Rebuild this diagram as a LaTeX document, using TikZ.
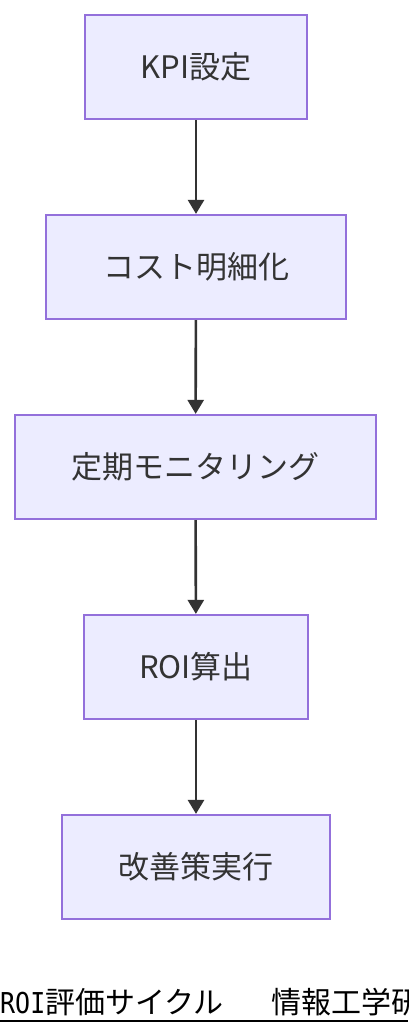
\documentclass[tikz,border=0pt]{standalone}
\usepackage{fontspec}
\setmainfont{Noto Sans CJK JP}
\newfontfamily\jpfont{Noto Sans CJK JP}
\newfontfamily\monofont{DejaVu Sans Mono}
\usetikzlibrary{arrows.meta}
\definecolor{nodefill}{HTML}{ECECFF}
\definecolor{nodeline}{HTML}{9370DB}
\definecolor{txt}{HTML}{333333}
\begin{document}
\begin{tikzpicture}[x=1pt,y=-1pt,
  box/.style={draw=nodeline,fill=nodefill,line width=2.2pt,minimum height=104pt,
    text=txt,font=\jpfont\fontsize{31}{32}\selectfont,inner sep=0pt},
  link/.style={draw=txt,line width=2.6pt,-{Triangle[width=16pt,length=14pt]}}]
\useasboundingbox (0,0) rectangle (408,1036);
\node[box,minimum width=222pt] (a) at (196,67) {KPI設定};
\node[box,minimum width=300pt] (b) at (196,267) {コスト明細化};
\node[box,minimum width=361pt] (c) at (195.5,467) {定期モニタリング};
\node[box,minimum width=224pt] (d) at (196,667) {ROI算出};
\node[box,minimum width=268pt] (e) at (196,867) {改善策実行};
\draw[link] (a) -- (b);
\draw[link] (b) -- (c);
\draw[link] (c) -- (d);
\draw[link] (d) -- (e);
\node[anchor=base west,inner sep=0pt,font=\monofont\fontsize{25}{25}\selectfont] (t1) at (0,1013) {\scalebox{1}[1.15]{ROI}};
\node[anchor=base west,inner sep=0pt,font=\jpfont\fontsize{30}{30}\selectfont] (t2) at (45,1013) {評価サイクル};
\node[anchor=base west,inner sep=0pt,font=\jpfont\fontsize{30}{30}\selectfont] (t3) at (271,1013) {情報工学研};
\draw[line width=2pt] (0,1021) -- (408,1021);
\end{tikzpicture}
\end{document}
